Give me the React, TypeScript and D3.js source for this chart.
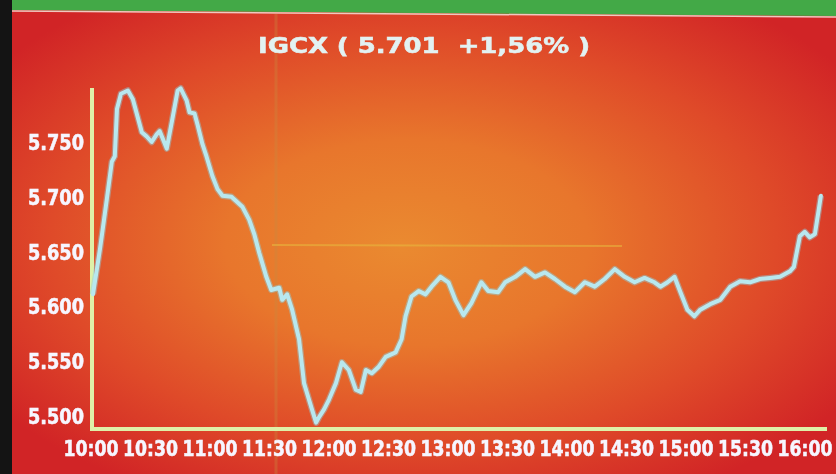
import { useEffect } from "react";
import * as d3 from "d3";

// minutes after 10:00 and index value
const minutes = [
  1, 4.5, 8, 10.5, 12, 13.1, 15.1, 18.6, 21.1, 25.6, 28.1, 30.6, 33.1, 34.6, 38.2, 40.7, 43.7, 45.2,
  48.2, 49.7, 52.2, 53.7, 56.2, 58.2, 61.2, 63.8, 66.3, 70.8, 76.3, 79.8, 82.3, 84.8, 88.4, 90.9,
  94.9, 96.4, 98.9, 101.4, 104.9, 107.4, 108.9, 111.4, 113.5, 115, 117.5, 120, 123.5, 126.5, 130,
  133.5, 136, 138.6, 141.6, 145.1, 148.6, 153.6, 156.6, 158.6, 161.6, 165.2, 168.7, 171.7, 176.2,
  180.2, 183.7, 187.8, 191.8, 196.8, 200.3, 205.3, 208.8, 213.9, 218.9, 223.9, 228.9, 233.9, 239,
  244, 249, 254, 259, 264.1, 269.1, 274.1, 279.1, 284.1, 287.1, 290.7, 294.2, 297.2, 300.7, 304.2,
  307.2, 312.2, 317.3, 322.3, 327.3, 332.3, 337.3, 342.4, 347.4, 352.4, 354.4, 357.4, 359.9, 362.4,
  365, 367, 368,
];
const values = [
  5.611, 5.652, 5.698, 5.732, 5.737, 5.78, 5.794, 5.797, 5.789, 5.759, 5.755, 5.75, 5.757, 5.76,
  5.744, 5.768, 5.797, 5.799, 5.788, 5.777, 5.776, 5.766, 5.748, 5.737, 5.719, 5.707, 5.701, 5.7,
  5.691, 5.679, 5.666, 5.649, 5.627, 5.615, 5.617, 5.606, 5.611, 5.597, 5.57, 5.53, 5.521, 5.506,
  5.494, 5.499, 5.506, 5.515, 5.53, 5.549, 5.542, 5.524, 5.522, 5.542, 5.539, 5.545, 5.554, 5.558,
  5.57, 5.591, 5.609, 5.614, 5.611, 5.618, 5.627, 5.622, 5.606, 5.592, 5.603, 5.622, 5.614, 5.613,
  5.622, 5.627, 5.634, 5.627, 5.631, 5.625, 5.618, 5.613, 5.622, 5.618, 5.625, 5.634, 5.627, 5.622,
  5.626, 5.622, 5.618, 5.622, 5.627, 5.613, 5.597, 5.591, 5.597, 5.602, 5.606, 5.618, 5.623, 5.622,
  5.625, 5.626, 5.627, 5.632, 5.636, 5.664, 5.668, 5.663, 5.666, 5.689, 5.701,
];
const timeLabels = [
  "10:00", "10:30", "11:00", "11:30", "12:00", "12:30", "13:00",
  "13:30", "14:00", "14:30", "15:00", "15:30", "16:00",
];
const valueTicks = [5.5, 5.55, 5.6, 5.65, 5.7, 5.75];
const title = "IGCX ( 5.701\u00a0\u00a0+1,56% )";

const W = 836;
const H = 474;
const FONT = "'DejaVu Sans', Arial, sans-serif";
const X_LABEL_W = 55;

export default function App() {
  useEffect(() => {
    document.body.style.margin = "0";
  }, []);

  const x = d3.scaleLinear().domain([0, 360]).range([91, 805]);
  const y = d3.scaleLinear().domain([5.5, 5.75]).range([416, 142]);

  const points = minutes.map((m, i) => [m, values[i]] as [number, number]);
  const line = d3
    .line<[number, number]>()
    .x((d) => x(d[0]))
    .y((d) => y(d[1]))
    .curve(d3.curveLinear);
  const path = line(points) ?? "";

  const fmt = d3.format(".3f");

  const labelStyle = {
    fontFamily: FONT,
    fontWeight: "bold" as const,
    fill: "#f6f6ff",
    stroke: "#f6f6ff",
    strokeWidth: 0.6,
    lengthAdjust: "spacingAndGlyphs",
    filter: "url(#soft)",
  };

  return (
    <svg width={W} height={H} style={{ display: "block" }}>
      <defs>
        <radialGradient id="bg" cx="0.5" cy="0.5" r="0.62" fx="0.48" fy="0.52">
          <stop offset="0" stopColor="#ea8a30" />
          <stop offset="0.35" stopColor="#e8762c" />
          <stop offset="0.7" stopColor="#df4a29" />
          <stop offset="1" stopColor="#d12426" />
        </radialGradient>
        <filter id="soft" x="-5%" y="-20%" width="110%" height="140%">
          <feGaussianBlur stdDeviation="0.5" />
        </filter>
      </defs>

      <rect x={0} y={0} width={W} height={H} fill="#d42a28" />
      <rect x={0} y={0} width={W} height={H} fill="url(#bg)" />
      {/* green strip on top and dark bezel on the left */}
      <polygon points={`0,0 ${W},0 ${W},16 0,10`} fill="#43a947" />
      <polyline points={`12,11 ${W},17`} stroke="#f0c8c0" strokeWidth={1.5} fill="none" />
      <rect x={0} y={0} width={12} height={H} fill="#141414" />

      {/* faint screen artefacts */}
      <line x1={276} x2={276} y1={14} y2={H} stroke="#c88a40" strokeOpacity={0.35} strokeWidth={3} />
      <line x1={272} x2={622} y1={245} y2={246} stroke="#e8c040" strokeOpacity={0.5} strokeWidth={2} />

      <text x={424} y={53} textAnchor="middle" fontSize={22} textLength={332} {...labelStyle} fill="#e2f2f2" stroke="#e2f2f2">
        {title}
      </text>

      {/* axes */}
      <line x1={92} x2={92} y1={88} y2={431} stroke="#dff0a8" strokeWidth={4} />
      <line x1={90} x2={827} y1={429} y2={429} stroke="#dff0a8" strokeWidth={4} />

      {valueTicks.map((v) => (
        <text key={v} x={84} y={y(v) + 8} textAnchor="end" fontSize={21} textLength={56} {...labelStyle}>
          {fmt(v)}
        </text>
      ))}

      {timeLabels.map((t, i) => {
        const last = i === timeLabels.length - 1;
        return (
          <text
            key={t}
            x={last ? x(i * 30) + X_LABEL_W / 2 : x(i * 30)}
            y={456}
            textAnchor={last ? "end" : "middle"}
            fontSize={22}
            textLength={X_LABEL_W}
            {...labelStyle}
          >
            {t}
          </text>
        );
      })}

      {/* price line */}
      <path d={path} fill="none" stroke="#8fd0e0" strokeOpacity={0.45} strokeWidth={6.5} strokeLinejoin="round" />
      <path d={path} fill="none" stroke="#b8e8ef" strokeWidth={4} strokeLinejoin="round" strokeLinecap="round" />
    </svg>
  );
}
